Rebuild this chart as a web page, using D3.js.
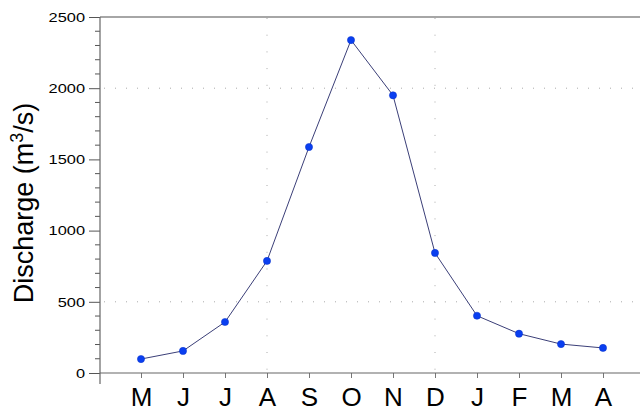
<!DOCTYPE html>
<html>
<head>
<meta charset="utf-8">
<script src="https://cdn.jsdelivr.net/npm/d3@7"></script>
<style>
  html, body { margin: 0; padding: 0; background: #fff; }
  svg { display: block; }
  text { font-family: "Liberation Sans", Arial, Helvetica, sans-serif; }
</style>
</head>
<body>
<svg id="chart" width="640" height="414"></svg>
<script>
const months = ["M", "J", "J", "A", "S", "O", "N", "D", "J", "F", "M", "A"];
const discharge = [98, 155, 358, 787, 1587, 2338, 1950, 843, 402, 276, 203, 176];
const yTicks = [0, 500, 1000, 1500, 2000, 2500];
const yGrid = [500, 2000];
const xGridIdx = [3, 7];

const svg = d3.select("#chart");
const x = d3.scaleLinear().domain([-1, 12]).range([99, 645]);
const y = d3.scaleLinear().domain([0, 2500]).range([373, 17]);

// grid lines
svg.append("g").selectAll("line").data(yGrid).join("line")
  .attr("x1", 104).attr("x2", 640)
  .attr("y1", d => y(d)).attr("y2", d => y(d))
  .attr("stroke", "#aaa").attr("stroke-width", 1)
  .attr("stroke-dasharray", "1,10");
svg.append("g").selectAll("line").data(xGridIdx).join("line")
  .attr("x1", d => x(d)).attr("x2", d => x(d))
  .attr("y1", 18).attr("y2", 373)
  .attr("stroke", "#aaa").attr("stroke-width", 1)
  .attr("stroke-dasharray", "1,15.7");

// top frame line
svg.append("line").attr("x1", 100).attr("x2", 640).attr("y1", 17).attr("y2", 17)
  .attr("stroke", "#888").attr("stroke-width", 1.5);

// y axis minor ticks
const yMinor = d3.range(0, 2501, 100).filter(v => v % 500 !== 0);
svg.append("g").selectAll("line").data(yMinor).join("line")
  .attr("x1", 95).attr("x2", 100)
  .attr("y1", d => y(d)).attr("y2", d => y(d))
  .attr("stroke", "#555").attr("stroke-width", 1);

// y axis
const yAxis = svg.append("g").attr("transform", "translate(100,0)")
  .call(d3.axisLeft(y).tickValues(yTicks).tickFormat(d3.format("d"))
    .tickSize(11).tickPadding(4).tickSizeOuter(0));
yAxis.select(".domain").remove();
yAxis.selectAll(".tick line").attr("stroke", "#555");
yAxis.selectAll(".tick text")
  .attr("font-size", 13.5).attr("fill", "#000")
  .attr("font-family", "Liberation Sans, Arial, sans-serif")
  .attr("textLength", d => String(d).length * 9.1)
  .attr("lengthAdjust", "spacingAndGlyphs");
svg.append("line").attr("x1", 100).attr("x2", 100).attr("y1", 17).attr("y2", 384)
  .attr("stroke", "#666").attr("stroke-width", 1.2);

// x axis
const xAxis = svg.append("g").attr("transform", "translate(0,373)")
  .call(d3.axisBottom(x).tickValues(d3.range(months.length))
    .tickFormat(i => months[i]).tickSize(5).tickPadding(10).tickSizeOuter(0));
xAxis.select(".domain").remove();
xAxis.selectAll(".tick line").attr("stroke", "#777");
xAxis.selectAll(".tick text")
  .attr("font-size", 26).attr("fill", "#000")
  .attr("font-family", "Liberation Sans, Arial, sans-serif");
svg.append("line").attr("x1", 100).attr("x2", 640).attr("y1", 373).attr("y2", 373)
  .attr("stroke", "#666").attr("stroke-width", 1.2);

// line
const line = d3.line().x((d, i) => x(i)).y(d => y(d));
svg.append("path").datum(discharge)
  .attr("d", line).attr("fill", "none")
  .attr("stroke", "#3b3f78").attr("stroke-width", 1);

// points
svg.append("g").selectAll("circle").data(discharge).join("circle")
  .attr("cx", (d, i) => x(i)).attr("cy", d => y(d)).attr("r", 3.6)
  .attr("fill", "#0a3ff0").attr("stroke", "#0630c8").attr("stroke-width", 0.5);

// y label
const lab = svg.append("text")
  .attr("transform", "translate(33,203) rotate(-90)")
  .attr("text-anchor", "middle").attr("font-size", 27).attr("fill", "#000");
lab.append("tspan").text("Discharge (m");
lab.append("tspan").attr("font-size", 18).attr("dy", -10).text("3");
lab.append("tspan").attr("dy", 10).text("/s)");
</script>
</body>
</html>
